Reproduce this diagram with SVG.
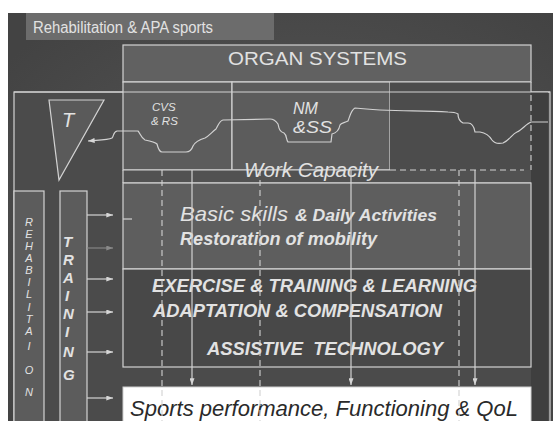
<svg xmlns="http://www.w3.org/2000/svg" width="553" height="421" viewBox="0 0 553 421">
<defs>
<radialGradient id="bg" cx="0.55" cy="0.55" r="0.7">
<stop offset="0" stop-color="#5a5a5a"/>
<stop offset="1" stop-color="#434343"/>
</radialGradient>
<marker id="ah" viewBox="0 0 8 6" refX="8" refY="3" markerWidth="7" markerHeight="5" markerUnits="userSpaceOnUse" orient="auto">
<path d="M0,0 L8,3 L0,6 z" fill="#d6d6d6"/>
</marker>
<marker id="ahd" viewBox="0 0 8 6" refX="8" refY="3" markerWidth="7" markerHeight="5" markerUnits="userSpaceOnUse" orient="auto">
<path d="M0,0 L8,3 L0,6 z" fill="#8a8a8a"/>
</marker>
</defs>
<style>
.ln{stroke:#d2d2d2;stroke-width:1.2;fill:none}
.bx{stroke:#d2d2d2;stroke-width:1.2}
.ds{stroke:#d2d2d2;stroke-width:1.1;stroke-dasharray:6 4;fill:none}
.t{font-family:"Liberation Sans",Arial,sans-serif;fill:#e2e2e2}
.i{font-style:italic}
.b{font-weight:bold}
</style>
<rect x="0" y="0" width="553" height="421" fill="#ffffff"/>
<rect x="8" y="13" width="545" height="408" fill="url(#bg)"/>

<g id="title">
<rect x="26" y="13" width="248" height="27" fill="#6c6c6c"/>
<text class="t" x="33" y="33" font-size="16" textLength="180" lengthAdjust="spacingAndGlyphs">Rehabilitation &amp; APA sports</text>
</g>

<g id="outer">
<rect x="14" y="92" width="536" height="340" fill="#4b4b4b" class="bx"/>
<rect x="531" y="92" width="17" height="340" fill="#3f3f3f"/>
</g>

<g id="organ-systems">
<rect x="123" y="45" width="408" height="37" fill="#616161" class="bx"/>
<text class="t" x="228" y="65" font-size="19" textLength="179" lengthAdjust="spacingAndGlyphs">ORGAN SYSTEMS</text>
</g>

<g id="organ-row">
<rect x="123" y="82" width="109" height="88" fill="#5c5c5c" class="bx"/>
<rect x="232" y="82" width="158" height="88" fill="#5c5c5c" class="bx"/>
<rect x="390" y="82" width="141" height="88" fill="#4c4c4c"/>
<line class="ln" x1="390" y1="82" x2="531" y2="82"/>
<line class="ln" x1="531" y1="82" x2="531" y2="92"/>
<line class="ds" x1="531" y1="95" x2="531" y2="170"/>
<line class="ln" x1="14" y1="92" x2="550" y2="92"/>
</g>

<g id="cvs">
<text class="t i" x="152" y="111" font-size="11.5">CVS</text>
<text class="t i" x="151" y="125" font-size="11.5">&amp; RS</text>
</g>
<g id="nm">
<text class="t i" x="293" y="114" font-size="16">NM</text>
<text class="t i" x="293" y="133" font-size="16" textLength="39" lengthAdjust="spacingAndGlyphs">&amp;SS</text>
</g>

<g id="work-capacity">
<rect x="123" y="170" width="408" height="13" fill="#525252"/>
<line class="ln" x1="123" y1="170" x2="390" y2="170"/>
<line class="ds" x1="390" y1="170" x2="524" y2="170"/>
<line class="ln" x1="123" y1="183" x2="531" y2="183"/>
<line class="ln" x1="123" y1="170" x2="123" y2="183"/>
<text class="t i" x="244" y="177" font-size="20" textLength="134" lengthAdjust="spacingAndGlyphs">Work Capacity</text>
</g>

<g id="basic-skills">
<rect x="123" y="183" width="408" height="86" fill="#5e5e5e" class="bx"/>
<text class="t i" x="180" y="221" font-size="21" textLength="108" lengthAdjust="spacingAndGlyphs">Basic skills</text>
<text class="t i b" x="295" y="221" font-size="16.7" textLength="142" lengthAdjust="spacingAndGlyphs">&amp; Daily Activities</text>
<text class="t i b" x="180" y="245" font-size="17.5" textLength="197" lengthAdjust="spacingAndGlyphs">Restoration of mobility</text>
</g>

<g id="exercise">
<rect x="123" y="269" width="408" height="98" fill="#484848" class="bx"/>
<text class="t i b" x="152" y="292" font-size="18" textLength="325" lengthAdjust="spacingAndGlyphs">EXERCISE &amp; TRAINING &amp; LEARNING</text>
<text class="t i b" x="153" y="317" font-size="18" textLength="289" lengthAdjust="spacingAndGlyphs">ADAPTATION &amp; COMPENSATION</text>
<text class="t i b" x="207" y="355" font-size="18" textLength="236" lengthAdjust="spacingAndGlyphs" xml:space="preserve">ASSISTIVE  TECHNOLOGY</text>
</g>

<g id="outcome">
<rect x="123" y="387" width="408" height="45" fill="#ffffff" stroke="#cfcfcf" stroke-width="1"/>
<text x="130" y="416" font-family="&quot;Liberation Sans&quot;,Arial,sans-serif" font-style="italic" font-size="21.5" fill="#2a2a2a" textLength="388" lengthAdjust="spacingAndGlyphs">Sports performance, Functioning &amp; QoL</text>
</g>

<g id="tissue-triangle">
<polygon points="49,100 104,100 59,180" fill="#5a5a5a" class="bx"/>
<text class="t i" x="62" y="127" font-size="20">T</text>
</g>

<g id="rehabilitation">
<rect x="14" y="191" width="30" height="240" fill="#5c5c5c" class="bx"/>
<g class="t i" font-size="11" text-anchor="middle">
<text x="29" y="226">R</text>
<text x="29" y="238">E</text>
<text x="29" y="250">H</text>
<text x="29" y="262">A</text>
<text x="29" y="274">B</text>
<text x="29" y="286">I</text>
<text x="29" y="298">L</text>
<text x="29" y="311">I</text>
<text x="29" y="323">T</text>
<text x="29" y="335">A</text>
<text x="29" y="350">I</text>
<text x="29" y="374">O</text>
<text x="29" y="396">N</text>
</g>
</g>

<g id="training">
<rect x="60" y="191" width="27" height="240" fill="#5c5c5c" class="bx"/>
<g class="t i b" font-size="15">
<text x="63" y="247">T</text>
<text x="63" y="265">R</text>
<text x="63" y="283">A</text>
<text x="65" y="301">I</text>
<text x="63" y="319">N</text>
<text x="65" y="337">I</text>
<text x="63" y="357">N</text>
<text x="63" y="380">G</text>
</g>
</g>

<g id="connectors">
<path class="ln" marker-end="url(#ah)" d="M548,122 L531,122 C526,124 522,130 517,132 C512,134 510,140 503,143 C498,144 494,143 492,140 C489,135 486,133 480,132 L475,132 C474,126 472,123 468,123 L463,123 C459,121 458,118 458,114 C455,112 452,112 448,112 C420,110 390,112 355,108 C351,110 350,116 348,121 C344,123 341,123 340,125 C339,130 337,133 332,134 L331,142 L288,142 C286,140 287,135 284,133 C280,132 279,129 278,124 C276,121 274,119 270,119 L223,120 C219,121 218,126 216,129 C212,132 209,136 205,138 C198,140 195,142 193,146 C192,149 190,152 186,152 L162,152 C159,152 158,148 157,144 C155,142 150,141 145,140 C141,138 140,133 138,131 L117,131 C113,132 114,136 112,138 C108,140 100,140 88,141"/>
<line class="ds" x1="162" y1="170" x2="162" y2="421"/>
<line class="ds" x1="260" y1="170" x2="260" y2="421"/>
<line class="ds" x1="459" y1="170" x2="459" y2="421"/>
<line class="ln" x1="192" y1="170" x2="192" y2="385" marker-end="url(#ah)"/>
<line class="ln" x1="351" y1="170" x2="351" y2="385" marker-end="url(#ah)"/>
<line class="ln" x1="475" y1="170" x2="475" y2="385" marker-end="url(#ah)"/>
<line class="ln" x1="87" y1="215" x2="113" y2="215" marker-end="url(#ah)"/>
<line x1="87" y1="248" x2="113" y2="248" stroke="#8a8a8a" stroke-width="1.1" marker-end="url(#ahd)"/>
<line class="ln" x1="87" y1="279" x2="113" y2="279" marker-end="url(#ah)"/>
<line class="ln" x1="87" y1="312" x2="113" y2="312" marker-end="url(#ah)"/>
<line class="ln" x1="87" y1="352" x2="113" y2="352" marker-end="url(#ah)"/>
<line class="ln" x1="87" y1="398" x2="113" y2="398" marker-end="url(#ah)"/>
<line class="ln" x1="123" y1="219" x2="132" y2="219"/>
</g>
</svg>
